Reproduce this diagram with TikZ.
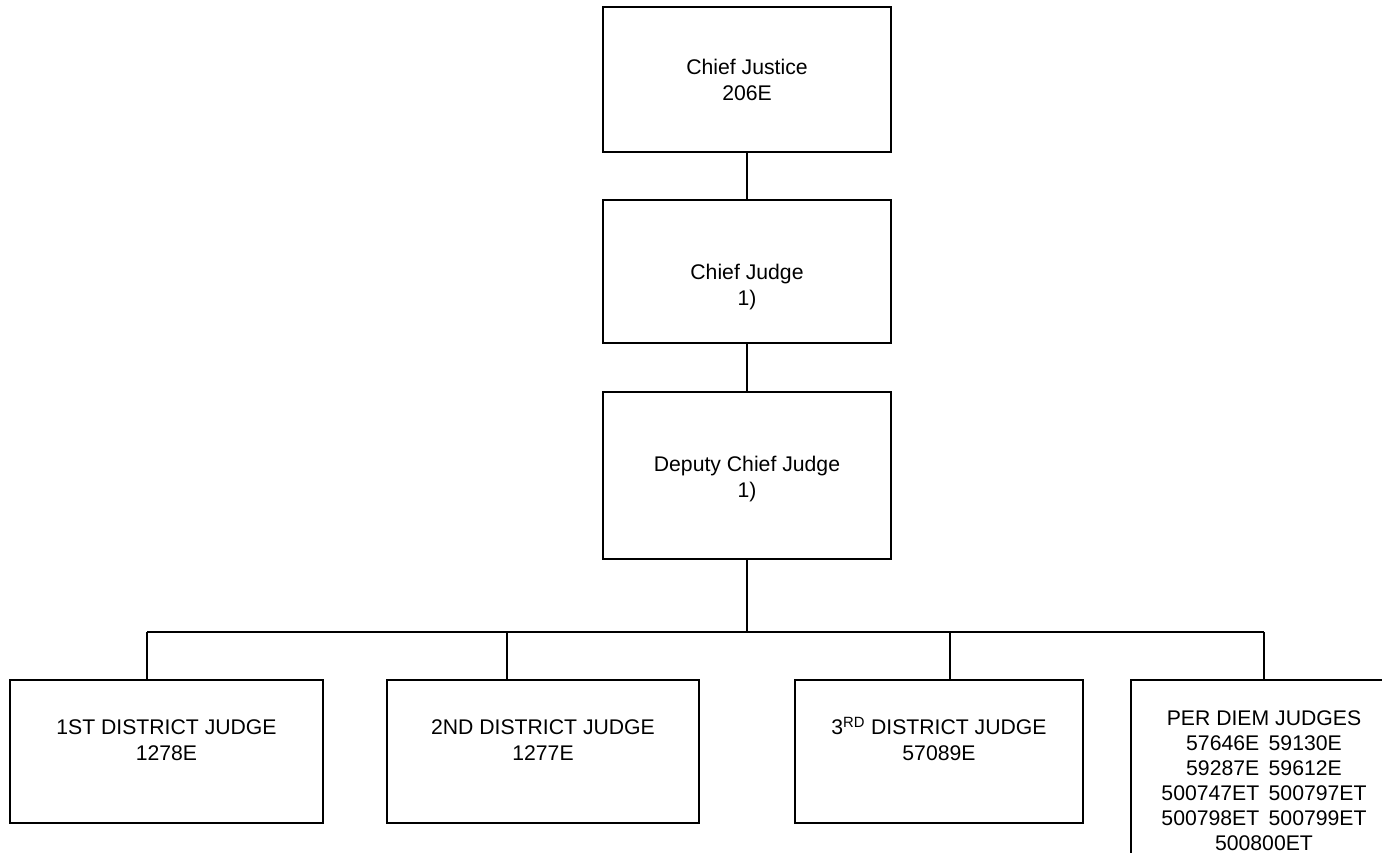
\documentclass[tikz,border=0pt]{standalone}
\usepackage{fontspec}
\setmainfont{Liberation Sans}
\begin{document}
\begin{tikzpicture}[x=1pt,y=-1pt,
  box/.style={draw=black, line width=2.4pt, rectangle, inner sep=0pt, outer sep=0pt},
  lbl/.style={align=center, inner sep=0pt, font=\fontsize{21.2}{26}\selectfont},
  lblpd/.style={align=center, inner sep=0pt, font=\fontsize{21.2}{25}\selectfont},
  conn/.style={draw=black, line width=2.2pt}]
\useasboundingbox (0,0) rectangle (1382,853);
\clip (0,0) rectangle (1382,853);
% boxes
\node[box, minimum width=288pt, minimum height=145pt] (cj)  at (747,79.5) {};
\node[box, minimum width=288pt, minimum height=143pt] (cjg) at (747,271.5) {};
\node[box, minimum width=288pt, minimum height=167pt] (dep) at (747,475.5) {};
\node[box, minimum width=313pt, minimum height=143pt] (d1)  at (166.5,751.5) {};
\node[box, minimum width=312pt, minimum height=143pt] (d2)  at (543,751.5) {};
\node[box, minimum width=288pt, minimum height=143pt] (d3)  at (939,751.5) {};
\node[box, minimum width=266pt, minimum height=220pt] (pd)  at (1264,790) {};
% texts
\node[lbl] (tcj)  at (747,80)  {Chief Justice\\206E};
\node[lbl] (tcjg) at (747,287) {Chief Judge\\1)};
\node[lbl] (tdep) at (747,479) {Deputy Chief Judge\\1)};
\node[lbl] (td1)  at (166.5,740) {1ST DISTRICT JUDGE\\1278E};
\node[lbl] (td2)  at (543,740) {2ND DISTRICT JUDGE\\1277E};
\node[lbl] (td3)  at (939,739) {3\textsuperscript{RD} DISTRICT JUDGE\\57089E};
\node[lblpd] (tpd) at (1264,781) {PER DIEM JUDGES\\57646E\ \,59130E\\59287E\ \,59612E\\500747ET\ \,500797ET\\500798ET\ \,500799ET\\500800ET};
% connectors
\coordinate (bar) at (747,632);
\coordinate (j1) at (147,632);
\coordinate (j2) at (507,632);
\coordinate (j3) at (950,632);
\coordinate (j4) at (1264,632);
\draw[conn] (cj.south) -- (cjg.north);
\draw[conn] (cjg.south) -- (dep.north);
\draw[conn] (dep.south) -- (bar);
\draw[conn] (j1) -- (j4);
\draw[conn] (j1) -- (j1 |- d1.north);
\draw[conn] (j2) -- (j2 |- d2.north);
\draw[conn] (j3) -- (j3 |- d3.north);
\draw[conn] (j4) -- (pd.north);
\end{tikzpicture}
\end{document}
